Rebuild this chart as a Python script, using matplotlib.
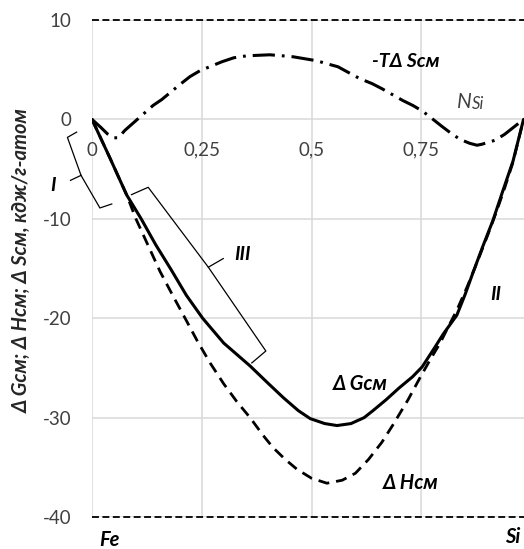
import matplotlib
matplotlib.use("Agg")
import matplotlib.pyplot as plt

plt.rcParams['font.family'] = ['Lato', 'Open Sans', 'DejaVu Sans']
plt.rcParams['lines.scale_dashes'] = False

# ---- data ----
x_tick_vals = [0, 0.25, 0.5, 0.75]
x_tick_labels = ["0", "0,25", "0,5", "0,75"]
y_tick_vals = [10, 0, -10, -20, -30, -40]
y_tick_labels = ["10", "0", "-10", "-20", "-30", "-40"]

# ΔG (solid)
g_x = [0, 0.04, 0.079, 0.112, 0.145, 0.18, 0.215, 0.252, 0.30, 0.36, 0.40,
       0.436, 0.47, 0.497, 0.53, 0.558, 0.59, 0.62, 0.64, 0.67, 0.70, 0.73,
       0.752, 0.78, 0.80, 0.831, 0.85, 0.868, 0.89, 0.913, 0.935, 0.959, 0.983]
g_y = [0, -3.8, -7.6, -10.0, -12.6, -15.1, -17.7, -20.0, -22.5, -24.8, -26.5,
       -28.0, -29.3, -30.1, -30.6, -30.8, -30.6, -30.0, -29.3, -28.2, -27.0, -25.9,
       -24.9, -23.0, -21.6, -19.7, -17.6, -15.4, -12.8, -10.2, -7.3, -4.2, 0]

# ΔH (dashed)
h_x = [0, 0.04, 0.079, 0.10, 0.128, 0.155, 0.185, 0.212, 0.24, 0.269, 0.30,
       0.33, 0.36, 0.39, 0.412, 0.44, 0.467, 0.50, 0.535, 0.57, 0.60, 0.63,
       0.66, 0.686, 0.72, 0.747, 0.77, 0.793, 0.81, 0.831, 0.855, 0.877, 0.90,
       0.922, 0.94, 0.959, 0.983]
h_y = [0, -3.8, -7.6, -10.0, -12.7, -15.3, -17.8, -20.0, -22.3, -24.5, -26.6,
       -28.4, -30.0, -31.8, -33.0, -34.2, -35.2, -36.1, -36.6, -36.3, -35.6, -34.2,
       -32.5, -30.7, -28.2, -26.0, -24.2, -22.5, -21.0, -19.2, -16.8, -14.4, -11.8,
       -9.2, -6.9, -4.3, 0]

# -TΔS (dash-dot)
s_x = [0, 0.02, 0.035, 0.05, 0.06, 0.075, 0.116, 0.139, 0.159, 0.20, 0.223,
       0.246, 0.296, 0.323, 0.353, 0.405, 0.433, 0.458, 0.512, 0.535, 0.56,
       0.61, 0.638, 0.66, 0.708, 0.731, 0.754, 0.797, 0.818, 0.838, 0.86,
       0.877, 0.888, 0.918, 0.94, 0.983]
s_y = [0, -0.8, -1.45, -1.85, -1.85, -1.1, 0.5, 1.4, 2.0, 3.5, 4.3,
       4.9, 5.8, 6.2, 6.4, 6.5, 6.4, 6.3, 5.9, 5.6, 5.3,
       4.1, 3.6, 3.1, 1.9, 1.4, 0.8, -0.7, -1.4, -2.0, -2.4,
       -2.6, -2.5, -2.1, -1.5, 0]

brace1_x = [-0.035, -0.056, -0.025, 0.018, 0.045]
brace1_y = [-1.28, -1.81, -5.63, -8.91, -8.51]
brace1_tip = ([-0.025, -0.049], [-5.63, -6.13])
brace3_x = [0.090, 0.128, 0.265, 0.396, 0.364]
brace3_y = [-7.57, -6.83, -14.87, -23.3, -24.5]
brace3_tip = ([0.265, 0.299], [-14.87, -14.0])

W, H = 524, 549
fig = plt.figure(figsize=(W / 100, H / 100), dpi=100)
ax = fig.add_axes([92 / W, 32 / H, 439 / W, 497 / H])
ax.set_xlim(0, 1)
ax.set_ylim(-40, 10)

for s in ax.spines.values():
    s.set_visible(False)
ax.spines['bottom'].set_position(('data', 0))

ax.set_xticks(x_tick_vals)
ax.set_xticklabels(x_tick_labels)
ax.set_yticks(y_tick_vals)
ax.set_yticklabels(y_tick_labels)
ax.tick_params(axis='x', length=0, pad=16, labelsize=13.5, labelcolor='#404040')
ax.tick_params(axis='y', length=0, pad=15, labelsize=13.5, labelcolor='#404040')
ax.grid(True, color='#d9d9d9', linewidth=1.1)
ax.set_axisbelow(True)

ax.axhline(10, color='black', lw=1.3, dashes=(5, 2.5), clip_on=False)
ax.axhline(-40, color='black', lw=1.3, dashes=(5, 2.5), clip_on=False)

ax.plot(g_x, g_y, color='black', lw=2.2, solid_capstyle='round', solid_joinstyle='round')
ax.plot(h_x, h_y, color='black', lw=2.0, dashes=(8, 5))
ax.plot(s_x, s_y, color='black', lw=2.2, dashes=(16, 5, 2, 5))

for bx, by, tip in [(brace1_x, brace1_y, brace1_tip), (brace3_x, brace3_y, brace3_tip)]:
    ax.plot(bx, by, color='black', lw=0.9, clip_on=False)
    ax.plot(tip[0], tip[1], color='black', lw=0.9, clip_on=False)

lab = dict(fontweight='bold', fontstyle='italic', color='black', ha='center', va='center')
ax.text(0.715, 5.83, "-TΔ Sсм", fontsize=14, **lab)
ax.text(0.848, 1.8, "N", fontsize=15, fontstyle='italic', color='#404040', ha='center', va='center')
ax.text(0.880, 1.5, "Si", fontsize=12, fontstyle='italic', color='#404040', ha='center', va='center')
ax.text(0.61, -26.6, "Δ Gсм", fontsize=14.5, **lab)
ax.text(0.725, -36.6, "Δ Hсм", fontsize=14.5, **lab)
ax.text(0.92, -17.6, "II", fontsize=14, **lab)
ax.text(0.342, -13.6, "III", fontsize=14, **lab)
ax.text(-0.089, -6.7, "I", fontsize=14, clip_on=False, **lab)

fig.text(109 / W, 1 - 540 / H, "Fe", fontsize=14.5, fontweight='bold', fontstyle='italic',
         ha='center', va='center')
fig.text(513 / W, 1 - 537 / H, "Si", fontsize=14.5, fontweight='bold', fontstyle='italic',
         ha='center', va='center')
fig.text(22 / W, 1 - 261 / H, "Δ Gсм; Δ Нсм; Δ Sсм, кдж/г-атом", rotation=90,
         fontsize=14.5, fontweight='bold', fontstyle='italic', color='#262626',
         ha='center', va='center')

fig.savefig("out.png", dpi=100)
